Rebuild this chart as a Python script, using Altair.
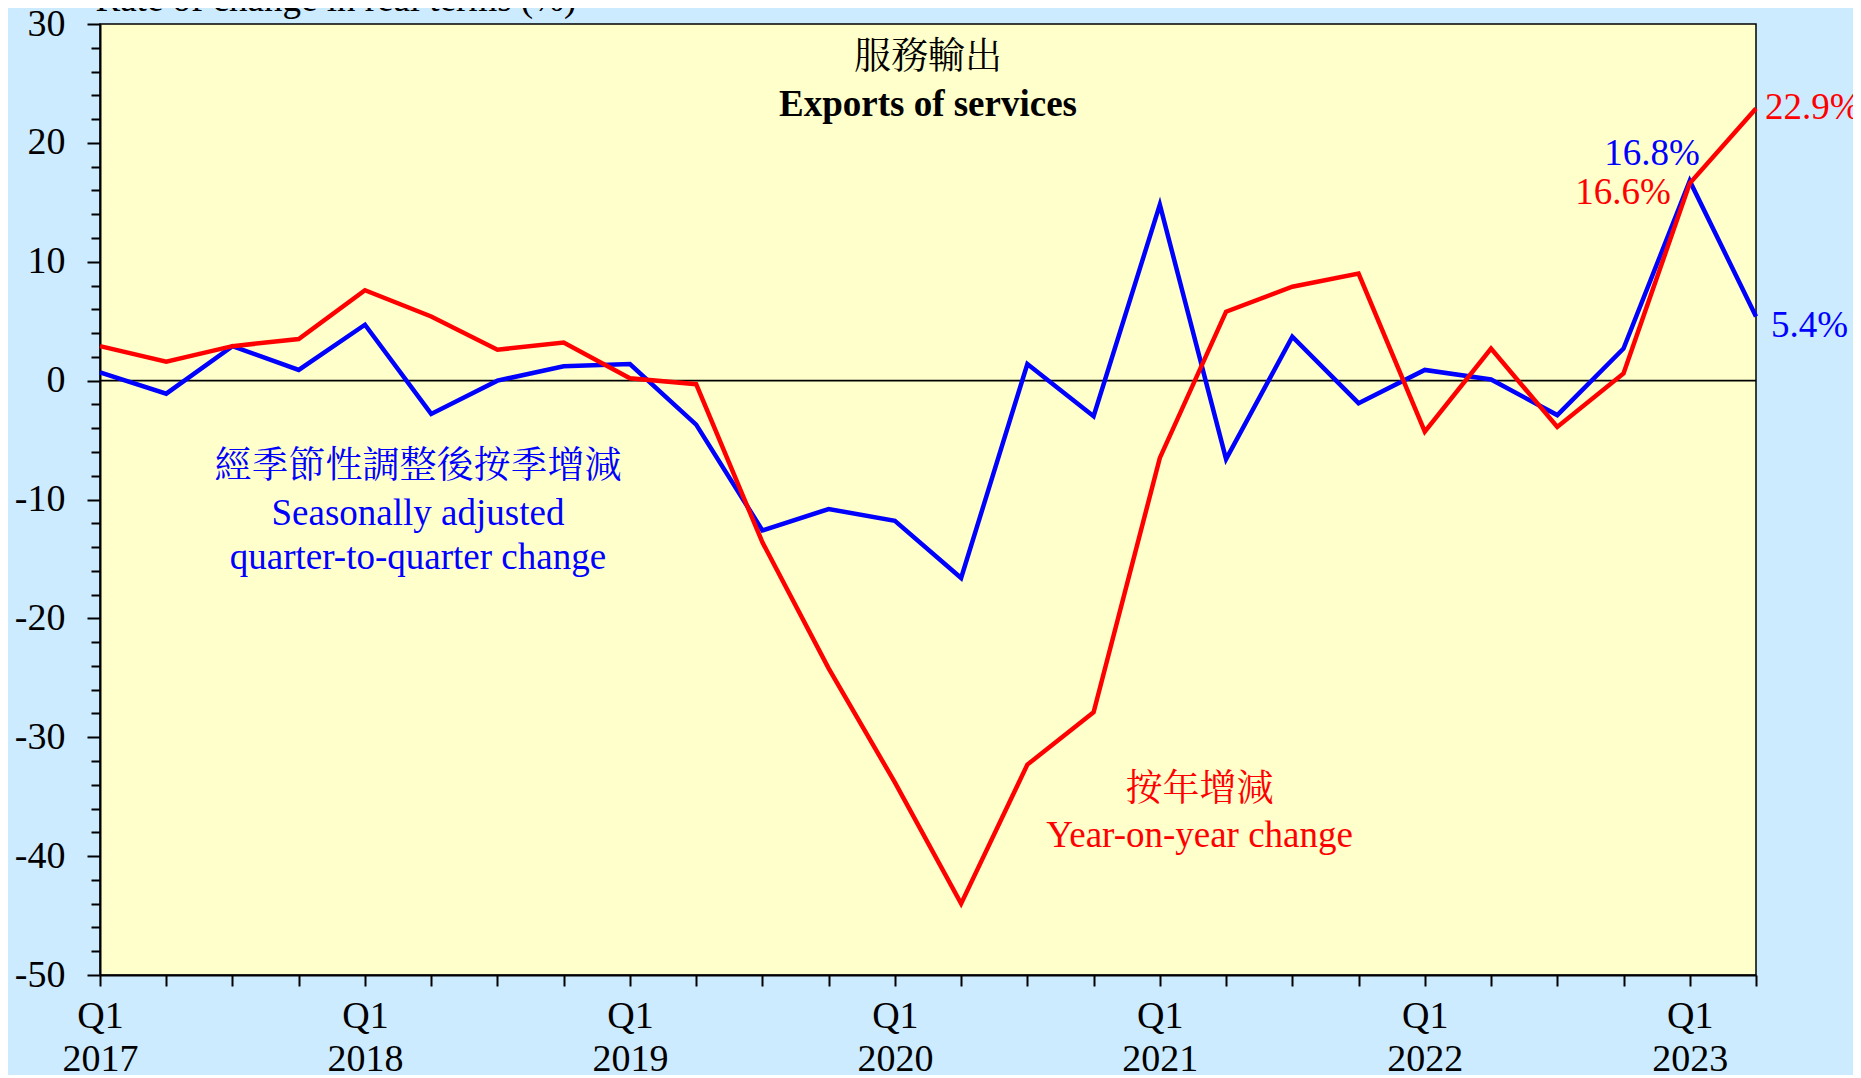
import altair as alt
import pandas as pd

# Quarter index 0 = Q1 2017 ... 25 = Q2 2023
years = [2017, 2018, 2019, 2020, 2021, 2022, 2023]
quarter_idx = list(range(26))

yoy = [2.9, 1.6, 2.9, 3.5, 7.6, 5.4, 2.6, 3.2, 0.2, -0.3, -13.6, -24.2, -33.8,
       -44.0, -32.3, -27.9, -6.5, 5.8, 7.9, 9.0, -4.3, 2.7, -3.9, 0.6, 16.6, 22.9]
qoq = [0.7, -1.1, 2.9, 0.9, 4.7, -2.8, 0.0, 1.2, 1.4, -3.7, -12.6, -10.8, -11.8,
       -16.6, 1.4, -3.0, 14.8, -6.6, 3.7, -1.9, 0.9, 0.1, -2.9, 2.7, 16.8, 5.4]

BG = "#CCEBFF"
PLOT_BG = "#FFFFCC"
RED = "#FF0000"
BLUE = "#0000FF"
FONT = "Liberation Serif, 'Noto Serif CJK TC', 'Noto Sans CJK TC'"
FS = 37

W, H = 1656, 951

# x tick labels: Q1 of each year, two lines
label_parts = []
for k, yr in enumerate(years):
    label_parts.append(f"datum.value == {k*4} ? ['Q1', '{yr}']")
x_label_expr = " : ".join(label_parts) + " : ''"

x_enc = alt.X(
    "i:Q",
    scale=alt.Scale(domain=[0, 25], nice=False, zero=False),
    axis=alt.Axis(
        values=quarter_idx, tickSize=11, tickWidth=2, tickColor="black",
        domainColor="black", domainWidth=2, grid=False, title=None,
        labelExpr=x_label_expr, labelOverlap=False, labelFlush=False,
        labelFont=FONT, labelFontSize=38, labelLineHeight=43, labelPadding=11,
        labelColor="black", labelBaseline="top", labelAlign="center",
    ),
)
y_enc = alt.Y(
    "v:Q",
    scale=alt.Scale(domain=[-50, 30], nice=False, zero=False),
    axis=alt.Axis(
        values=list(range(-50, 31, 2)),
        tickSize={"condition": {"test": "datum.value % 10 === 0", "value": 13}, "value": 9},
        tickWidth=2, tickColor="black", domainColor="black", domainWidth=2,
        grid=False, labelExpr="datum.value % 10 === 0 ? '' + datum.value : ''",
        labelOverlap=False, labelFlush=False, labelFont=FONT, labelFontSize=38,
        labelPadding=22, labelColor="black",
        title="Rate of change in real terms (%)", titleAngle=0, titleX=-5, titleY=-14,
        titleAlign="left", titleBaseline="alphabetic", titleFont=FONT,
        titleFontSize=FS, titleFontWeight="normal", titleColor="black",
    ),
)

df_red = pd.DataFrame({"i": quarter_idx, "v": yoy})
df_blue = pd.DataFrame({"i": quarter_idx, "v": qoq})
df_zero = pd.DataFrame({"v": [0]})

zero = alt.Chart(df_zero).mark_rule(color="black", strokeWidth=1.8).encode(y=y_enc)
blue_line = alt.Chart(df_blue).mark_line(color=BLUE, strokeWidth=4.5).encode(x=x_enc, y=y_enc)
red_line = alt.Chart(df_red).mark_line(color=RED, strokeWidth=4.5).encode(x=x_enc, y=y_enc)

# annotations: (quarter index, value, text)
title_cn = [(12.5, 27.1, "服務輸出")]
title_en = [(12.5, 23.2, "Exports of services")]
blue_note = [(4.8, -7.3, "經季節性調整後按季增減"),
             (4.8, -11.2, "Seasonally adjusted"),
             (4.8, -14.9, "quarter-to-quarter change")]
red_note = [(16.6, -34.4, "按年增減"),
            (16.6, -38.3, "Year-on-year change")]
end_red_right = [(25, 22.9, "22.9%")]
end_blue_right = [(25, 4.6, "5.4%")]
peak_blue = [(24, 19.1, "16.8%")]
peak_red = [(24, 15.8, "16.6%")]


def text_layer(rows, color, align="center", dx=0, weight="normal"):
    df = pd.DataFrame(rows, columns=["i", "v", "t"])
    return alt.Chart(df).mark_text(
        color=color, align=align, baseline="middle", dx=dx, font=FONT,
        fontSize=FS, fontWeight=weight,
    ).encode(x=x_enc, y=y_enc, text="t:N")


layers = [
    zero, blue_line, red_line,
    text_layer(title_cn, "black"),
    text_layer(title_en, "black", weight="bold"),
    text_layer(blue_note, BLUE),
    text_layer(red_note, RED),
    text_layer(end_red_right, RED, align="left", dx=9),
    text_layer(end_blue_right, BLUE, align="left", dx=15),
    text_layer(peak_blue, BLUE, align="right", dx=10),
    text_layer(peak_red, RED, align="right", dx=-19),
]

chart = alt.layer(*layers).properties(
    width=W, height=H,
    autosize=alt.AutoSizeParams(type="none"),
    padding={"left": 92, "top": 16, "right": 97, "bottom": 100},
).configure(background=BG).configure_view(
    fill=PLOT_BG, stroke="black", strokeWidth=1.5
)

chart.save("out.html", embed_options={"renderer": "svg", "actions": False})
